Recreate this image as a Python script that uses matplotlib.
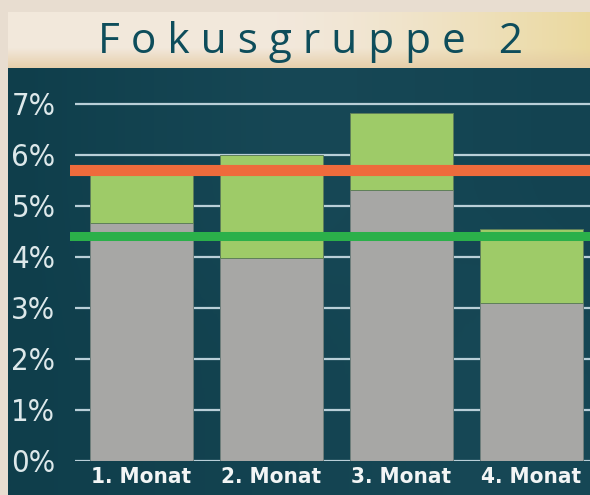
import numpy as np
import matplotlib.pyplot as plt
from matplotlib import font_manager as fm
from matplotlib.colors import LinearSegmentedColormap

# Daten
months = ['1. Monat', '2. Monat', '3. Monat', '4. Monat']
base_vals = [4.67, 3.98, 5.31, 3.10]      # grauer Anteil
top_vals = [0.96, 2.02, 1.51, 1.44]       # gruener Anteil oben drauf
orange_level = 5.71
green_level = 4.40
yticks = [0, 1, 2, 3, 4, 5, 6, 7]
ytick_labels = ['0%', '1%', '2%', '3%', '4%', '5%', '6%', '7%']


# schmale Schrift suchen, sonst Roboto
def find_font(bold):
    files = [f for f in fm.fontManager.ttflist]
    for key in ['LiberationSansNarrow', 'DejaVuSansCondensed', 'RobotoCondensed', 'Roboto']:
        for f in files:
            fn = f.fname.replace('-', '').replace('_', '')
            if key in fn and ('Bold' in fn) == bold and 'Italic' not in fn \
                    and 'Oblique' not in fn and 'Light' not in fn and 'Medium' not in fn \
                    and 'Black' not in fn and 'Thin' not in fn:
                return fm.FontProperties(fname=f.fname)
    return fm.FontProperties(family='DejaVu Sans', weight='bold' if bold else 'normal')


fp_y = find_font(False)
fp_x = find_font(True)

W, H = 590, 495
fig = plt.figure(figsize=(W / 100, H / 100), dpi=100, facecolor='#e8ddd0')

# dunkles Panel (Hintergrund)
bg = fig.add_axes([8 / W, 0, 1 - 8 / W, (H - 68) / H])
grad = np.linspace(0, 1, 256).reshape(1, -1)
grad = np.vstack([grad, grad * 0.6])
bg.imshow(grad, aspect='auto', extent=(0, 1, 0, 1),
          cmap=LinearSegmentedColormap.from_list('bg', ['#0f3e4b', '#174856', '#134351']))
bg.axis('off')

# Titelbalken mit Verlauf
ban = fig.add_axes([8 / W, (H - 68) / H, 1 - 8 / W, 56 / H])
xx = np.linspace(0, 1, 300)
yy = np.linspace(0, 1, 60)
X, Y = np.meshgrid(xx, yy)
c_left = np.array([0.95, 0.91, 0.86])
c_right = np.array([0.92, 0.85, 0.62])
c_bot = np.array([0.89, 0.79, 0.63])
t = np.clip((X - 0.45) / 0.55, 0, 1)[..., None] ** 1.5
img = c_left * (1 - t) + c_right * t
b = np.clip((0.35 - Y) / 0.35, 0, 1)[..., None]
img = img * (1 - b * 0.8) + c_bot * b * 0.8
ban.imshow(img, aspect='auto', origin='lower', extent=(0, 1, 0, 1))
ban.axis('off')
fig.text(311 / W, 1 - 53 / H, 'F o k u s g r u p p e   2', ha='center', va='baseline',
         fontsize=30.5, color='#0e4d5b', family=['Open Sans', 'DejaVu Sans'])

# Diagramm
ax = fig.add_axes([70 / W, 34 / H, 1 - 70 / W, (461 - 68) / H])
ax.patch.set_alpha(0)
x = np.arange(len(months))
ax.set_xlim(-0.55, 3.45)
ax.set_ylim(0, 7.7)

ax.hlines(yticks, -0.51, 3.45, color='#b9cfd8', lw=1.6, zorder=1)
ax.bar(x, base_vals, width=0.785, color='#a7a7a5', edgecolor='#6f7f7c', lw=0.7, zorder=2)
ax.bar(x, top_vals, bottom=base_vals, width=0.785, color='#9ecb68',
       edgecolor='#5f7f5a', lw=0.7, zorder=2)
ax.axhline(orange_level, color='#ee6b3c', lw=8, zorder=3)
ax.axhline(green_level, color='#2bb04a', lw=6.5, zorder=3)

ax.set_yticks(yticks)
ylabs = ax.set_yticklabels(ytick_labels, fontproperties=fp_y, color='#dde8ea')
ax.set_xticks(x)
xlabs = ax.set_xticklabels(months, fontproperties=fp_x, color='#f2f5f5')
ax.tick_params(axis='y', length=0, pad=10.5)
ax.tick_params(axis='x', length=0, pad=4)
for s in ax.spines.values():
    s.set_visible(False)

# Schriftgroesse an die Breite im Original anpassen
rend = fig.canvas.get_renderer()
for labs, target, maxsize in [(ylabs, 44, 26), (xlabs, 100, 21)]:
    labs[-1].set_fontsize(20)
    w = labs[-1].get_window_extent(rend).width
    size = min(maxsize, 20 * target / w)
    for lab in labs:
        lab.set_fontsize(size)

fig.savefig('out.png', dpi=100, facecolor=fig.get_facecolor())
